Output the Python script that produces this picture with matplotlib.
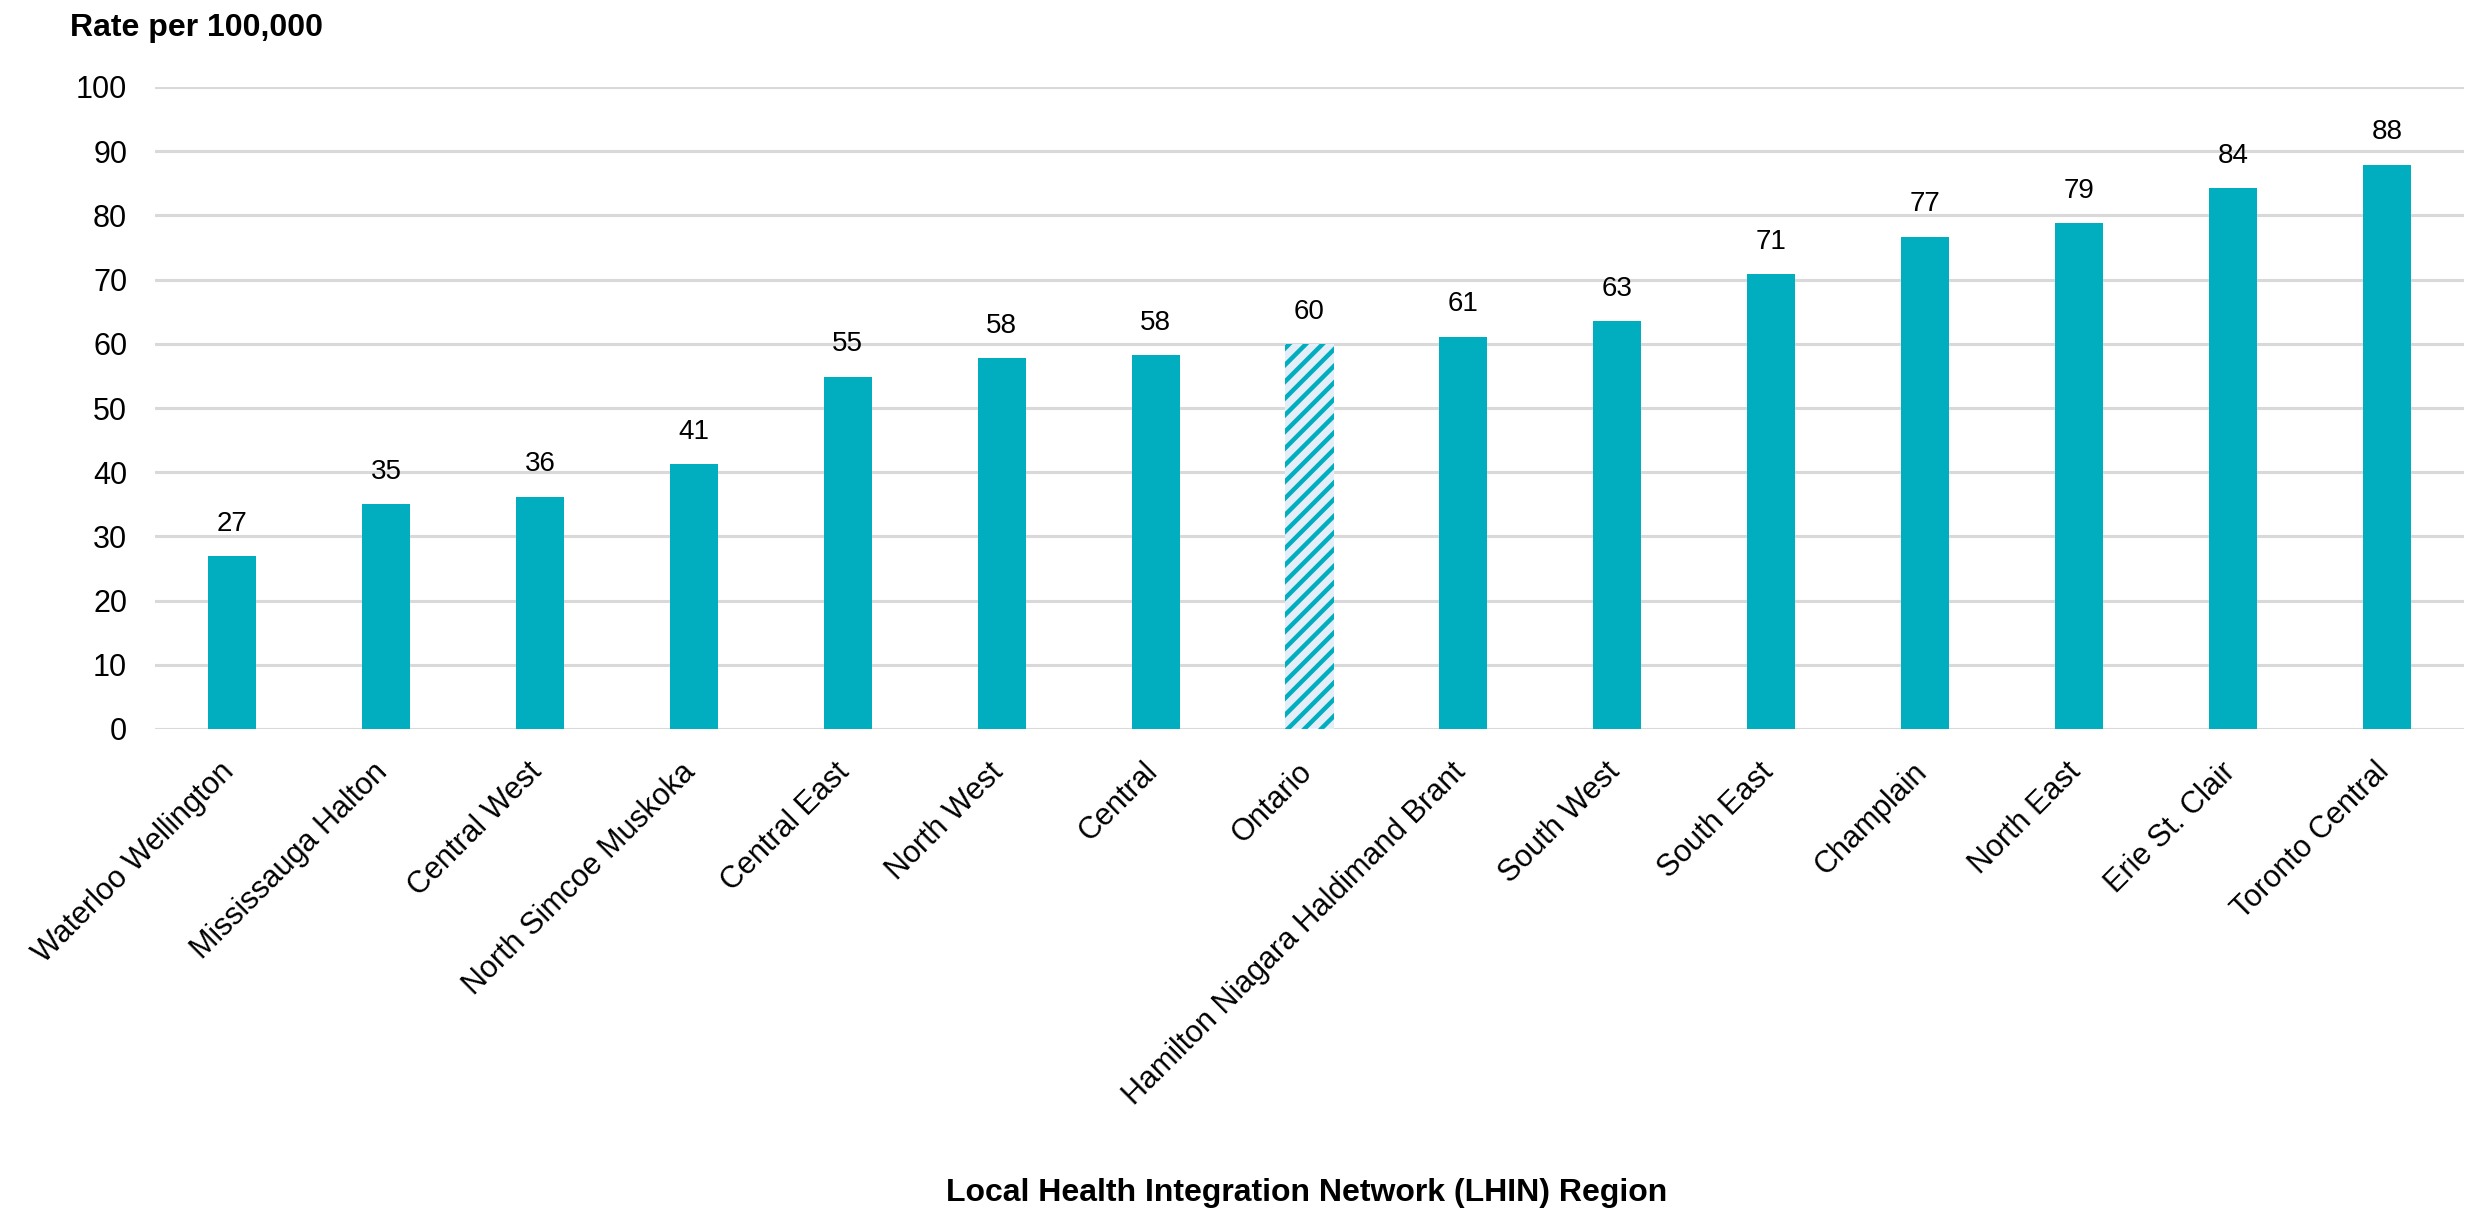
import numpy as np
import matplotlib
matplotlib.use("Agg")
from matplotlib import pyplot as plt
from matplotlib import transforms

# data
regions = ["Waterloo Wellington", "Mississauga Halton", "Central West",
           "North Simcoe Muskoka", "Central East", "North West", "Central",
           "Ontario", "Hamilton Niagara Haldimand Brant", "South West",
           "South East", "Champlain", "North East", "Erie St. Clair",
           "Toronto Central"]
rates = [26.9, 35.0, 36.2, 41.2, 54.9, 57.8, 58.2, 60.0, 61.1, 63.5,
         70.9, 76.7, 78.8, 84.2, 87.9]
labels = ["27", "35", "36", "41", "55", "58", "58", "60", "61", "63",
          "71", "77", "79", "84", "88"]
province = "Ontario"

TEAL = "#00AEBF"
HATCH_BG = "#E4EEF8"
GRID = "#D9D9D9"

DPI = 100
W, H = 2470, 1213

plt.rcParams['font.family'] = ['Liberation Sans', 'DejaVu Sans']
plt.rcParams['hatch.linewidth'] = 3.2

fig = plt.figure(figsize=(W / DPI, H / DPI), dpi=DPI)
ax = fig.add_axes([155/W, 1 - 729/H, 2309/W, (729 - 87)/H])

x = np.arange(len(regions))
for i, (r, v) in enumerate(zip(regions, rates)):
    if r == province:
        # provincial average: hatched bar
        ax.bar(i, v, width=0.312, color=HATCH_BG, edgecolor=TEAL,
               hatch='//', linewidth=0, zorder=3)
    else:
        ax.bar(i, v, width=0.312, color=TEAL, linewidth=0, zorder=3)
    ax.text(i, v + 3, labels[i], ha='center', va='bottom', fontsize=20)

ax.set_xlim(-0.5, len(regions) - 0.5)
ax.set_ylim(0, 100)
ax.set_yticks(np.arange(0, 101, 10))
ax.yaxis.grid(True, color=GRID, linewidth=2.2, zorder=0)
ax.set_axisbelow(True)
for s in ax.spines.values():
    s.set_visible(False)
ax.tick_params(axis='both', length=0, labelsize=22)
ax.tick_params(axis='y', pad=20)
ax.set_xticks(x)
ax.set_xticklabels(regions, rotation=45, ha='right', rotation_mode='anchor')
ax.tick_params(axis='x', pad=20)
shift = transforms.ScaledTranslation(-13 / DPI, 0, fig.dpi_scale_trans)
for lab in ax.get_xticklabels():
    lab.set_transform(lab.get_transform() + shift)

fig.text(70/W, 1 - 28/H, "Rate per 100,000", fontsize=23,
         fontweight='bold', ha='left', va='center')
fig.text(1307/W, 1 - 1193/H,
         "Local Health Integration Network (LHIN) Region", fontsize=23,
         fontweight='bold', ha='center', va='center')

fig.savefig("out.png", dpi=DPI)
